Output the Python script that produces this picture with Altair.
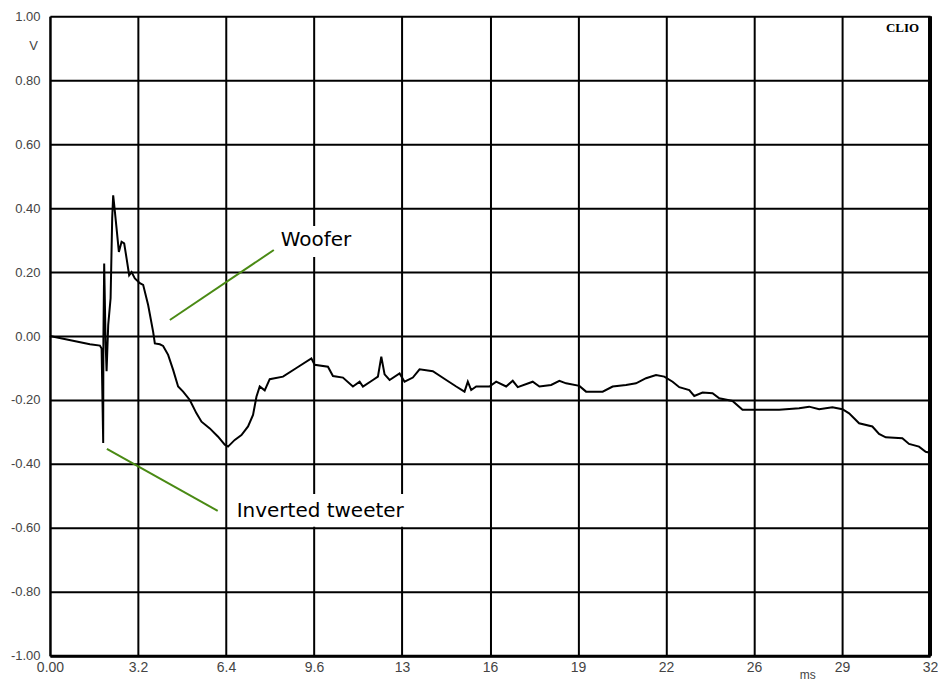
import altair as alt
import pandas as pd

# Impulse response (time in ms, amplitude in V)
time_ms = [0.0, 1.453, 1.816, 1.878, 1.936, 1.943, 1.972, 2.023, 2.059, 2.118, 2.205, 2.263,
           2.299, 2.336, 2.423, 2.506, 2.604, 2.699, 2.786, 2.880, 2.968, 3.087, 3.269, 3.389,
           3.570, 3.752, 3.814, 3.995, 4.115, 4.297, 4.479, 4.660, 4.842, 5.085, 5.328, 5.510,
           5.812, 6.113, 6.356, 6.476, 6.720, 6.963, 7.203, 7.384, 7.508, 7.628, 7.809, 7.991,
           8.474, 8.961, 9.505, 9.625, 10.108, 10.290, 10.653, 11.016, 11.260, 11.380, 11.743,
           11.925, 12.048, 12.168, 12.350, 12.713, 12.894, 13.196, 13.439, 13.922, 14.409,
           14.772, 15.074, 15.194, 15.317, 15.499, 15.982, 16.225, 16.588, 16.828, 17.010,
           17.554, 17.798, 18.223, 18.524, 18.768, 19.251, 19.494, 20.097, 20.460, 20.947,
           21.310, 21.674, 22.037, 22.338, 22.640, 22.883, 23.246, 23.428, 23.729, 24.093,
           24.336, 24.819, 25.182, 25.669, 26.515, 27.242, 27.605, 27.968, 28.451, 28.815,
           29.058, 29.421, 29.904, 30.147, 30.391, 30.994, 31.237, 31.600, 31.843, 32.0]
volts = [0.0, -0.026, -0.030, -0.039, -0.335, -0.010, 0.227, -0.020, -0.110, 0.034, 0.118, 0.368,
         0.440, 0.410, 0.336, 0.263, 0.295, 0.290, 0.243, 0.190, 0.200, 0.180, 0.165, 0.160,
         0.097, 0.013, -0.023, -0.026, -0.031, -0.059, -0.106, -0.158, -0.174, -0.200, -0.242, -0.268,
         -0.289, -0.315, -0.340, -0.346, -0.325, -0.310, -0.283, -0.247, -0.190, -0.158, -0.170, -0.135,
         -0.127, -0.100, -0.070, -0.090, -0.096, -0.125, -0.130, -0.158, -0.143, -0.158, -0.1375,
         -0.127, -0.065, -0.120, -0.1375, -0.117, -0.143, -0.130, -0.104, -0.110, -0.1375,
         -0.158, -0.174, -0.143, -0.169, -0.158, -0.158, -0.143, -0.158, -0.140, -0.160,
         -0.143, -0.158, -0.153, -0.140, -0.148, -0.156, -0.174, -0.174, -0.158, -0.153,
         -0.148, -0.132, -0.122, -0.127, -0.143, -0.160, -0.169, -0.1875, -0.177, -0.179,
         -0.195, -0.203, -0.231, -0.231, -0.231, -0.226, -0.221, -0.229, -0.223, -0.229,
         -0.242, -0.273, -0.283, -0.306, -0.317, -0.320, -0.3375, -0.346, -0.362, -0.365]

x_ticks = [0, 3.2, 6.4, 9.6, 12.8, 16, 19.2, 22.4, 25.6, 28.8, 32]
x_tick_labels = ["0.00", "3.2", "6.4", "9.6", "13", "16", "19", "22", "26", "29", "32"]
y_ticks = [1.0, 0.8, 0.6, 0.4, 0.2, 0.0, -0.2, -0.4, -0.6, -0.8, -1.0]

# Annotations
ann_labels = ["Woofer", "Inverted tweeter"]
ann_line_x = [4.36, 2.07]
ann_line_y = [0.05, -0.353]
ann_line_x2 = [8.14, 6.10]
ann_line_y2 = [0.269, -0.547]
ann_text_x = [8.39, 6.79]
ann_text_y = [0.30, -0.547]
ann_box_x = [8.28, 6.72]
ann_box_x2 = [11.11, 13.62]
ann_box_y = [0.344, -0.494]
ann_box_y2 = [0.247, -0.597]

df = pd.DataFrame({"t": time_ms, "v": volts})
ann = pd.DataFrame({"label": ann_labels, "lx": ann_line_x, "ly": ann_line_y,
                    "lx2": ann_line_x2, "ly2": ann_line_y2, "tx": ann_text_x, "ty": ann_text_y,
                    "bx": ann_box_x, "bx2": ann_box_x2, "by": ann_box_y, "by2": ann_box_y2})

xs = alt.Scale(domain=[0, 32], nice=False, zero=False)
ys = alt.Scale(domain=[-1, 1], nice=False)

label_arr = "[" + ",".join("'" + s + "'" for s in x_tick_labels) + "]"

x_axis = alt.Axis(
    values=x_ticks, labelExpr=label_arr + "[round(datum.value/3.2)]",
    labelFlush=False, labelOverlap=False,
    title="ms", titleX=758, titleY=23, titleBaseline="alphabetic", titleFontSize=12,
    titleFontWeight="normal", titleColor="#444", titleFont="Liberation Sans",
    grid=True, gridColor="black", gridWidth=2, gridOpacity=1,
    domainColor="black", domainWidth=3, ticks=False, labelPadding=5,
    labelFont="Liberation Sans", labelFontSize=14, labelColor="#444")
y_axis = alt.Axis(
    values=y_ticks, labelExpr="replace(format(datum.value, '.2f'), '\u2212', '-')",
    labelFlush=False, labelOverlap=False,
    title="V", titleAngle=0, titleX=-17, titleY=36,
    titleAlign="center", titleFontSize=13, titleFontWeight="normal", titleColor="#444",
    titleFont="Liberation Sans",
    grid=True, gridColor="black", gridWidth=2, gridOpacity=1,
    domainColor="black", domainWidth=2, ticks=False, labelPadding=10,
    labelFont="Liberation Sans", labelFontSize=13, labelColor="#444")


def X(f):
    return alt.X(f, scale=xs, axis=x_axis)


def Y(f):
    return alt.Y(f, scale=ys, axis=y_axis)


line = alt.Chart(df).mark_line(color="black", strokeWidth=2).encode(x=X("t:Q"), y=Y("v:Q"))

boxes = alt.Chart(ann).mark_rect(color="white").encode(
    x=X("bx:Q"), x2="bx2:Q", y=Y("by:Q"), y2="by2:Q")

pointers = alt.Chart(ann).mark_rule(color="#4a8a14", strokeWidth=2).encode(
    x=X("lx:Q"), x2="lx2:Q", y=Y("ly:Q"), y2="ly2:Q")

texts = alt.Chart(ann).mark_text(align="left", baseline="middle", font="DejaVu Sans",
                                 fontSize=20, color="black").encode(
    x=X("tx:Q"), y=Y("ty:Q"), text="label:N")

right_edge = alt.Chart(pd.DataFrame({"x": [32]})).mark_rule(color="black", strokeWidth=4).encode(
    x=X("x:Q"))

clio = alt.Chart(pd.DataFrame({"x": [31.0], "y": [0.965], "t": ["CLIO"]})).mark_text(
    font="Liberation Serif", fontWeight="bold", fontSize=13, color="black",
    align="center", baseline="middle").encode(x=X("x:Q"), y=Y("y:Q"), text="t:N")

chart = alt.layer(line, boxes, pointers, texts, right_edge, clio).properties(
    width=881, height=640,
    autosize=alt.AutoSizeParams(type="none"),
    padding={"left": 42, "top": 8, "right": 8, "bottom": 27},
).configure_view(stroke="black", strokeWidth=2).configure(background="white")

chart.save("out.html", embed_options={"renderer": "svg", "actions": False})
